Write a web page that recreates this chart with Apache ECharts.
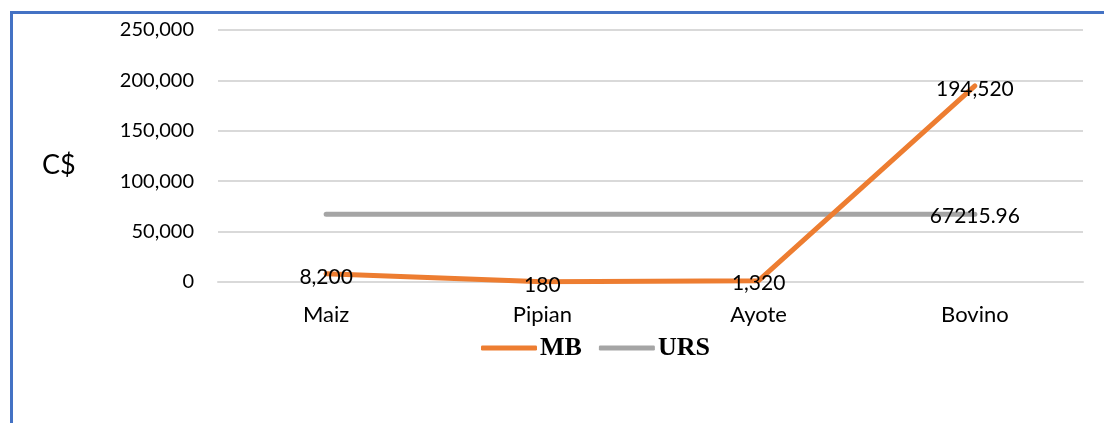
<!DOCTYPE html>
<html>
<head>
<meta charset="utf-8">
<script src="https://cdn.jsdelivr.net/npm/echarts@6/dist/echarts.min.js"></script>
<style>
  html, body { margin: 0; padding: 0; background: #fff; }
  #chart { width: 1104px; height: 423px; }
</style>
</head>
<body>
<div id="chart"></div>
<script>
  var categories = ['Maiz', 'Pipian', 'Ayote', 'Bovino']
  var mbValues = [8200, 180, 1320, 194520]
  var ursValue = 67215.96
  var ursValues = [ursValue, ursValue, ursValue, ursValue]
  var yTicks = [0, 50000, 100000, 150000, 200000, 250000]

  var fmt = function (v) { return Number(v).toLocaleString('en-US') }
  var labelFont = 'Lato, "Open Sans", sans-serif'

  var chart = echarts.init(document.getElementById('chart'))
  chart.setOption({
    animation: false,
    backgroundColor: '#fff',
    grid: { left: 218, right: 21, top: 30, bottom: 141 },
    graphic: [
      // blue frame (top + left)
      { type: 'rect', shape: { x: 10, y: 11, width: 1094, height: 3 }, style: { fill: '#4472C4' } },
      { type: 'rect', shape: { x: 10, y: 11, width: 3, height: 412 }, style: { fill: '#4472C4' } },
      {
        type: 'text', left: 42, top: 152,
        style: { text: 'C$', fontSize: 27, fontFamily: labelFont, fill: '#000' }
      }
    ],
    legend: {
      left: 481, top: 335, padding: 0,
      itemWidth: 56, itemHeight: 5, itemGap: 17,
      icon: 'roundRect',
      textStyle: { fontFamily: '"Liberation Serif", serif', fontWeight: 'bold', fontSize: 26, color: '#000', padding: [0, 0, 0, -2] },
      data: ['MB', 'URS']
    },
    xAxis: {
      type: 'category',
      data: categories,
      boundaryGap: true,
      axisLine: { lineStyle: { color: '#D9D9D9', width: 2 } },
      axisTick: { show: false },
      axisLabel: { color: '#000', fontSize: 22, fontFamily: labelFont, margin: 22 }
    },
    yAxis: {
      type: 'value',
      min: yTicks[0],
      max: yTicks[yTicks.length - 1],
      interval: yTicks[1] - yTicks[0],
      axisLine: { show: false },
      axisTick: { show: false },
      splitLine: { lineStyle: { color: '#D9D9D9', width: 2 } },
      axisLabel: { color: '#000', fontSize: 20, fontFamily: labelFont, margin: 24, formatter: fmt }
    },
    series: [
      {
        name: 'MB',
        type: 'line',
        data: mbValues,
        symbol: 'circle',
        symbolSize: 1,
        lineStyle: { color: '#ED7D31', width: 5, cap: 'round' },
        itemStyle: { color: '#ED7D31' },
        z: 3,
        label: {
          show: true, position: 'inside', offset: [0, 3], color: '#000',
          fontSize: 21, fontFamily: labelFont,
          formatter: function (p) { return fmt(p.value) }
        }
      },
      {
        name: 'URS',
        type: 'line',
        data: ursValues,
        symbol: 'circle',
        symbolSize: 1,
        lineStyle: { color: '#A5A5A5', width: 5, cap: 'round' },
        itemStyle: { color: '#A5A5A5' },
        z: 2,
        label: {
          show: true, position: 'inside', offset: [0, 2], color: '#000',
          fontSize: 21, fontFamily: labelFont,
          formatter: function (p) { return p.dataIndex === ursValues.length - 1 ? String(p.value) : '' }
        }
      }
    ]
  })
</script>
</body>
</html>
